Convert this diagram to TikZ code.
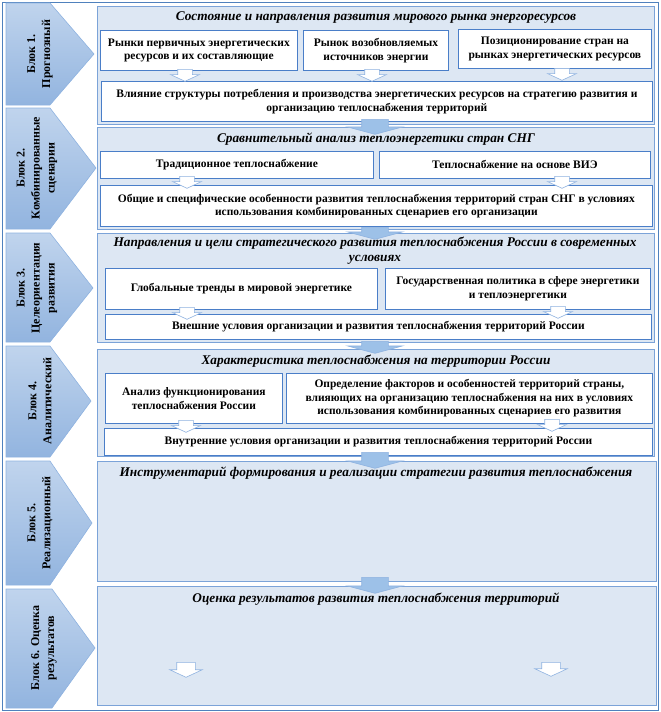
\documentclass[tikz,border=0pt]{standalone}
\usepackage{fontspec}
\setmainfont{Liberation Serif}
\usetikzlibrary{arrows.meta,calc,positioning,shapes.arrows}
\definecolor{frameline}{HTML}{4F81BD}
\definecolor{panelfill}{HTML}{DDE7F3}
\definecolor{panelline}{HTML}{7BA3D8}
\definecolor{boxline}{HTML}{4A7EC8}
\definecolor{chevtop}{HTML}{C0D4ED}
\definecolor{chevbot}{HTML}{92B4DF}
\definecolor{chevline}{HTML}{8EB2E0}
\definecolor{arrowfill}{HTML}{9DC1E8}

\begin{document}
\begin{tikzpicture}[x=1pt,y=-1pt,
    panel/.style={draw=panelline,fill=panelfill,line width=0.8pt,anchor=north west,inner sep=0pt},
    box/.style={draw=boxline,fill=white,line width=0.8pt,anchor=north west,inner sep=1pt,align=center,font=\bfseries\fontsize{11.5}{13.5}\selectfont},
    ttl/.style={font=\bfseries\itshape\fontsize{13.3}{15}\selectfont,align=center},
    chevron/.style={draw=chevline,line width=0.6pt,top color=chevtop,bottom color=chevbot},
    blocklbl/.style={rotate=90,align=center,font=\bfseries\fontsize{12}{15}\selectfont},
    hollow/.style={single arrow,draw=chevline,fill=white,line width=0.6pt,anchor=tail,rotate=-90,inner sep=0pt,inner ysep=7pt,minimum width=0pt,minimum height=12pt,single arrow head extend=7pt,single arrow tip angle=130},
    bigarrow/.style={single arrow,draw=chevline,fill=arrowfill,line width=0.6pt,anchor=tail,rotate=-90,inner sep=0pt,inner ysep=13pt,minimum width=0pt,single arrow head extend=14pt,single arrow tip angle=150}]
  \useasboundingbox (0,0) rectangle (661,712);
  \node[draw=frameline,line width=0.8pt,anchor=north west,inner sep=0pt,minimum width=656pt,minimum height=708pt] (frm) at (2,2) {};

  % left blocks
  \path[chevron] (6,3) -- (50,3) -- (94,54) -- (50,105) -- (6,105) -- cycle;
  \node[blocklbl] (blk1) at (40,54) {Блок 1.\\Прогнозный};
  \path[chevron] (6,108) -- (50,108) -- (96,168) -- (50,229) -- (6,229) -- cycle;
  \node[blocklbl] (blk2) at (37,168) {Блок 2.\\Комбинированные\\сценарии};
  \path[chevron] (6,233) -- (50,233) -- (93,288) -- (50,342) -- (6,342) -- cycle;
  \node[blocklbl] (blk3) at (37,288) {Блок 3.\\Целеориентация\\развития};
  \path[chevron] (6,346) -- (50,346) -- (91,401) -- (50,457) -- (6,457) -- cycle;
  \node[blocklbl] (blk4) at (40,401) {Блок 4.\\Аналитический};
  \path[chevron] (6,461) -- (50,461) -- (92,523) -- (50,585) -- (6,585) -- cycle;
  \node[blocklbl] (blk5) at (40,523) {Блок 5.\\Реализационный};
  \path[chevron] (6,589) -- (52,589) -- (95,648) -- (52,708) -- (6,708) -- cycle;
  \node[blocklbl] (blk6) at (44,648) {Блок 6. Оценка\\результатов};

  % block 1
  \node[panel,minimum width=557pt,minimum height=118pt] (pan1) at (97,6) {};
  \node[ttl] (ttl1) at (376,18) {Состояние и направления развития мирового рынка энергоресурсов};
  \node[box,minimum width=197pt,minimum height=40pt] (p1a) at (100,30) {Рынки первичных энергетических\\ресурсов и их составляющие};
  \node[box,minimum width=145pt,minimum height=40pt] (p1b) at (303,30) {Рынок возобновляемых\\источников энергии};
  \node[box,minimum width=193pt,minimum height=39pt] (p1c) at (458,29) {Позиционирование стран на\\рынках энергетических ресурсов};
  \node[box,minimum width=551pt,minimum height=40pt] (p1d) at (101,81) {Влияние структуры потребления и производства энергетических ресурсов на стратегию развития и\\организацию теплоснабжения территорий};
  \node[hollow] (h1a) at (185,69) {};
  \node[hollow] (h1b) at (372,69) {};
  \node[hollow] (h1c) at (562,68) {};

  % block 2
  \node[panel,minimum width=557pt,minimum height=102pt] (pan2) at (97,127) {};
  \node[ttl] (ttl2) at (376,139) {Сравнительный анализ теплоэнергетики стран СНГ};
  \node[box,minimum width=273pt,minimum height=27pt] (p2a) at (100,151) {Традиционное теплоснабжение};
  \node[box,minimum width=271pt,minimum height=27pt] (p2b) at (379,151) {Теплоснабжение на основе ВИЭ};
  \node[box,minimum width=552pt,minimum height=41pt] (p2c) at (100,185) {Общие и специфические особенности развития теплоснабжения территорий стран СНГ в условиях\\использования комбинированных сценариев его организации};
  \node[hollow] (h2a) at (187,176) {};
  \node[hollow] (h2b) at (562,176) {};

  % block 3
  \node[panel,minimum width=557pt,minimum height=109pt] (pan3) at (97,233) {};
  \node[ttl] (ttl3) at (375,251) {Направления и цели стратегического развития теплоснабжения России в современных\\условиях};
  \node[box,minimum width=272pt,minimum height=41pt] (p3a) at (105,268) {Глобальные тренды в мировой энергетике};
  \node[box,minimum width=265pt,minimum height=41pt] (p3b) at (385,268) {Государственная политика в сфере энергетики\\и теплоэнергетики};
  \node[box,minimum width=546pt,minimum height=25pt] (p3c) at (105,314) {Внешние условия организации и развития теплоснабжения территорий России};
  \node[hollow] (h3a) at (187,307) {};
  \node[hollow] (h3b) at (558,306) {};

  % block 4
  \node[panel,minimum width=557pt,minimum height=107pt] (pan4) at (97,349) {};
  \node[ttl] (ttl4) at (376,361) {Характеристика теплоснабжения на территории России};
  \node[box,minimum width=177pt,minimum height=50pt] (p4a) at (105,373) {Анализ функционирования\\теплоснабжения России};
  \node[box,minimum width=366pt,minimum height=50pt] (p4b) at (286,373) {Определение факторов и особенностей территорий страны,\\влияющих на организацию теплоснабжения на них в условиях\\использования комбинированных сценариев его развития};
  \node[box,minimum width=548pt,minimum height=27pt] (p4c) at (104,428) {Внутренние условия организации и развития теплоснабжения территорий России};
  \node[hollow] (h4a) at (186,420) {};
  \node[hollow] (h4b) at (552,419) {};

  % block 5
  \node[panel,minimum width=559pt,minimum height=120pt] (pan5) at (97,461) {};
  \node[ttl] (ttl5) at (376,473) {Инструментарий формирования и реализации стратегии развития теплоснабжения};

  % block 6
  \node[panel,minimum width=559pt,minimum height=119pt] (pan6) at (97,586) {};
  \node[ttl] (ttl6) at (376,599) {Оценка результатов развития теплоснабжения территорий};
  \node[hollow,minimum height=15pt,inner ysep=9pt,single arrow head extend=7pt] (h6a) at (186,662) {};
  \node[hollow,minimum height=14pt,inner ysep=9pt,single arrow head extend=7pt] (h6b) at (551,662) {};

  % arrows between blocks
  \node[bigarrow,minimum height=15pt] (a12) at (375,119) {};
  \node[bigarrow,minimum height=12pt] (a23) at (375,227) {};
  \node[bigarrow,minimum height=12pt] (a34) at (375,341) {};
  \node[bigarrow,minimum height=16pt] (a45) at (375,452) {};
  \node[bigarrow,minimum height=16pt] (a56) at (375,577) {};
\end{tikzpicture}
\end{document}
